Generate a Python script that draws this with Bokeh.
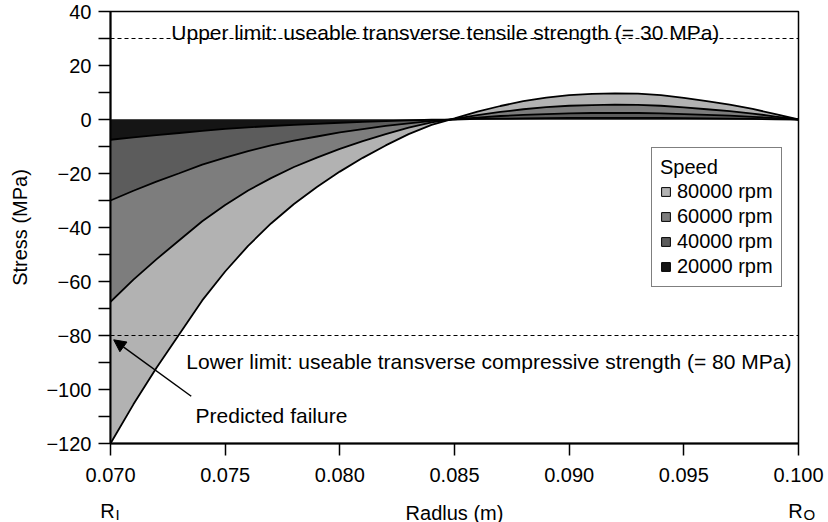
from bokeh.plotting import figure
from bokeh.layouts import column
from bokeh.models import (Range1d, FixedTicker, Span, Label, Arrow, NormalHead,
                          Legend, LegendItem, NumeralTickFormatter)
from bokeh.core.properties import value
from bokeh.embed import file_html
from bokeh.resources import INLINE

# ---------------- data ----------------
radius = [0.070, 0.071, 0.072, 0.073, 0.074, 0.075, 0.076, 0.077, 0.078, 0.079,
          0.080, 0.081, 0.082, 0.083, 0.084, 0.085, 0.086, 0.087, 0.088, 0.089,
          0.090, 0.091, 0.092, 0.093, 0.094, 0.095, 0.096, 0.097, 0.098, 0.099, 0.100]

stress_80000 = [-120.0, -105.5, -92.0, -79.5, -67.0, -56.3, -46.8, -38.5, -31.3, -25.0,
                -19.3, -14.2, -9.6, -5.4, -2.0, 0.4, 2.9, 5.0, 6.8, 8.1,
                9.0, 9.5, 9.7, 9.6, 9.0, 8.0, 6.8, 5.5, 3.9, 2.0, 0.0]
stress_60000 = [-67.5, -59.3, -51.8, -44.7, -37.7, -31.7, -26.3, -21.7, -17.6, -14.1,
                -10.9, -8.0, -5.4, -3.0, -1.1, 0.2, 1.6, 2.8, 3.8, 4.6,
                5.1, 5.3, 5.5, 5.4, 5.1, 4.5, 3.8, 3.1, 2.2, 1.1, 0.0]
stress_40000 = [-30.0, -26.4, -23.0, -19.9, -16.7, -14.1, -11.7, -9.6, -7.8, -6.3,
                -4.8, -3.6, -2.4, -1.4, -0.5, 0.1, 0.7, 1.3, 1.7, 2.0,
                2.3, 2.4, 2.4, 2.4, 2.3, 2.0, 1.7, 1.4, 1.0, 0.5, 0.0]
stress_20000 = [-7.5, -6.6, -5.8, -5.0, -4.2, -3.5, -2.9, -2.4, -2.0, -1.6,
                -1.2, -0.9, -0.6, -0.3, -0.1, 0.0, 0.2, 0.3, 0.4, 0.5,
                0.6, 0.6, 0.6, 0.6, 0.6, 0.5, 0.4, 0.3, 0.2, 0.1, 0.0]

speeds = ["80000 rpm", "60000 rpm", "40000 rpm", "20000 rpm"]
series = [stress_80000, stress_60000, stress_40000, stress_20000]
colors = ["#b2b2b2", "#7d7d7d", "#5c5c5c", "#151515"]

upper_limit = 30
lower_limit = -80
upper_text = "Upper limit: useable transverse tensile strength (= 30 MPa)"
lower_text = "Lower limit: useable transverse compressive strength (= 80 MPa)"

x_ticks = [0.070, 0.075, 0.080, 0.085, 0.090, 0.095, 0.100]
y_ticks = [-120, -110, -100, -90, -80, -70, -60, -50, -40, -30, -20, -10, 0, 10, 20, 30, 40]
y_labels = {t: (str(t).replace("-", "\u2212") if t % 20 == 0 else "") for t in y_ticks}

x_min, x_max = 0.070, 0.100
r_inner, r_outer = 0.070, 0.100

FONT = "Liberation Sans"
W = 828
LEFT, RIGHT = 110, 30
MAIN_H, STRIP_H = 494, 28

# ---------------- main figure ----------------
p = figure(width=W, height=MAIN_H, output_backend="svg", toolbar_location=None,
           x_range=Range1d(x_min, x_max), y_range=Range1d(-120, 40),
           min_border_left=LEFT, min_border_right=RIGHT, min_border_top=11,
           min_border_bottom=MAIN_H - 443, frame_align=False)
p.grid.visible = False
p.outline_line_color = "black"
p.outline_line_width = 1.5
p.background_fill_color = "white"
p.border_fill_color = "white"

for ys, c in zip(series, colors):
    p.varea(x=radius, y1=[0] * len(radius), y2=ys, fill_color=c)
for ys in series:
    p.line(x=radius, y=ys, line_color="black", line_width=1.8)

for v in (upper_limit, lower_limit):
    p.add_layout(Span(location=v, dimension="width", line_color="black",
                      line_width=1, line_dash="4 3"))

p.add_layout(Label(x=0.0846, y=upper_limit, y_offset=6, text=upper_text,
                   text_align="center", text_baseline="alphabetic",
                   text_font=FONT, text_font_size="21px", text_color="black"))
p.add_layout(Label(x=0.0865, y=lower_limit, y_offset=-26, text=lower_text,
                   text_align="center", text_baseline="alphabetic",
                   text_font=FONT, text_font_size="21px", text_color="black"))
p.add_layout(Label(x=0.07371, y=-109.6, text="Predicted failure",
                   text_align="left", text_baseline="alphabetic",
                   text_font=FONT, text_font_size="21px", text_color="black"))
p.add_layout(Arrow(end=NormalHead(size=12, fill_color="black", line_color="black"),
                   x_start=0.07352, y_start=-102.5, x_end=0.07014, y_end=-81.6,
                   line_color="black", line_width=1.5))

xa = p.xaxis[0]
xa.ticker = FixedTicker(ticks=x_ticks, minor_ticks=[])
xa.formatter = NumeralTickFormatter(format="0.000")
ya = p.yaxis[0]
ya.ticker = FixedTicker(ticks=y_ticks, minor_ticks=[])
ya.major_label_overrides = y_labels
ya.axis_label = "Stress (MPa)"
for ax in (xa, ya):
    ax.axis_line_width = 2
    ax.axis_line_color = "black"
    ax.major_tick_in = 0
    ax.major_tick_out = 12
    ax.major_tick_line_width = 1.5
    ax.major_label_text_font = FONT
    ax.major_label_text_font_size = "20px"
    ax.major_label_text_color = "black"
    ax.axis_label_text_font = FONT
    ax.axis_label_text_font_size = "20px"
    ax.axis_label_text_font_style = "normal"
    ax.axis_label_text_color = "black"
xa.major_label_standoff = 12
ya.major_label_standoff = 7
ya.axis_label_standoff = 12

# legend with outlined swatches (zero-size dummy quads outside the view)
items = []
for name, c in zip(speeds, colors):
    r = p.quad(left=[0.0], right=[0.0], top=[0.0], bottom=[0.0], fill_color=c,
               line_color="black", line_width=1)
    items.append(LegendItem(label=name, renderers=[r]))
legend = Legend(items=items, location=(541, 156), title="Speed",
                title_text_font=FONT, title_text_font_size="20px",
                title_text_font_style="normal", title_text_color="black",
                title_standoff=1,
                label_text_font=FONT, label_text_font_size="20px",
                label_text_color="black",
                glyph_width=11, glyph_height=11, label_standoff=6,
                label_height=20, spacing=2, padding=8, margin=0,
                border_line_color="black", border_line_width=1,
                background_fill_color="white", background_fill_alpha=1)
p.add_layout(legend, "center")

# ---------------- strip below: R_I, axis title, R_O ----------------
k = (x_max - x_min) / (W - LEFT - RIGHT)
s = figure(width=W, height=STRIP_H, output_backend="svg", toolbar_location=None,
           x_range=Range1d(x_min - LEFT * k, x_max + RIGHT * k),
           y_range=Range1d(0, STRIP_H),
           min_border_left=0, min_border_right=0, min_border_top=0,
           min_border_bottom=0, frame_align=False)
s.axis.visible = False
s.grid.visible = False
s.outline_line_color = None
s.background_fill_color = "white"
s.border_fill_color = "white"

base_y = 12
s.text(x=[r_inner, r_outer], y=[base_y, base_y], text=["R", "R"], x_offset=-3,
       text_align="center", text_baseline="alphabetic",
       text_font=value(FONT), text_font_size="20px", text_color="black")
s.text(x=[r_inner, r_outer], y=[base_y, base_y], text=["I", "O"], x_offset=5,
       y_offset=4, text_align="left", text_baseline="alphabetic",
       text_font=value(FONT), text_font_size="15px", text_color="black")
s.text(x=[(x_min + x_max) / 2], y=[base_y - 2], text=["Radlus (m)"],
       text_align="center", text_baseline="alphabetic",
       text_font=value(FONT), text_font_size="20px", text_color="black")

layout = column(p, s, spacing=0)
open("out.html", "w").write(file_html(layout, INLINE))
